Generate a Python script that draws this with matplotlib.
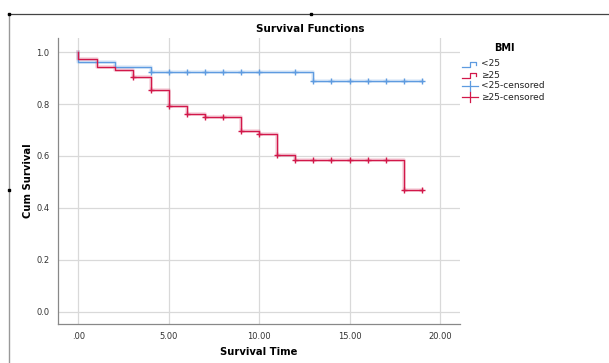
import numpy as np
import matplotlib
matplotlib.use("Agg")
import matplotlib.pyplot as plt
from matplotlib.lines import Line2D

# Kaplan-Meier step data
blue_times = [0, 2, 4, 13, 19]
blue_surv = [0.964, 0.944, 0.925, 0.890, 0.890]
blue_cens = [4, 5, 6, 7, 8, 9, 10, 12, 13, 14, 15, 16, 17, 18, 19]

red_times = [0, 1, 2, 3, 4, 5, 6, 7, 9, 10, 11, 12, 18, 19]
red_surv = [0.974, 0.942, 0.932, 0.903, 0.854, 0.794, 0.763, 0.752,
            0.697, 0.684, 0.603, 0.586, 0.469, 0.469]
red_cens = [3, 4, 5, 6, 7, 8, 9, 10, 11, 12, 13, 14, 15, 16, 17, 18, 19]

x_ticks = [0, 5, 10, 15, 20]
x_labels = [".00", "5.00", "10.00", "15.00", "20.00"]
y_ticks = [0.0, 0.2, 0.4, 0.6, 0.8, 1.0]
legend_labels = ["<25", "\u226525", "<25-censored", "\u226525-censored"]

BLUE = "#5e9be0"
RED = "#d2184a"
W, H = 609, 363


def surv_at(times, surv, t):
    idx = np.searchsorted(times, t, side="right") - 1
    return np.asarray(surv)[idx]


def fx(px):
    return px / W


def fy(py):
    return 1 - py / H


fig = plt.figure(figsize=(6.09, 3.63), dpi=100)
ax = fig.add_axes([fx(58), fy(324), fx(460) - fx(58), fy(38) - fy(324)])

for times, surv, cens, color in [(blue_times, blue_surv, blue_cens, BLUE),
                                 (red_times, red_surv, red_cens, RED)]:
    xs = [0] + times
    ys = [1.0] + surv
    ax.step(xs, ys, where="post", color=color, lw=1.0, zorder=3)
    ax.step(xs, ys, where="post", color=color, lw=2.6, alpha=0.18, zorder=2)
    cy = [surv_at(times, surv, t) for t in cens]
    ax.plot(cens, cy, ls="none", marker="+", ms=5, mew=1.0,
            color=color, zorder=4)

ax.set_xlim(-1.13, 21.11)
ax.set_ylim(-0.048, 1.055)
ax.set_xticks(x_ticks)
ax.set_xticklabels(x_labels)
ax.set_yticks(y_ticks)
ax.set_yticklabels([f"{v:.1f}" for v in y_ticks])
ax.tick_params(length=0, labelsize=6, colors="#333333", pad=6)
ax.grid(True, color="#d9d9d9", lw=0.9)
ax.set_axisbelow(True)
for side in ["top", "right"]:
    ax.spines[side].set_visible(False)
for side in ["left", "bottom"]:
    ax.spines[side].set_color("#888888")
    ax.spines[side].set_linewidth(0.9)

fig.text(fx(310), fy(29), "Survival Functions", ha="center", va="center",
         fontsize=7.5, fontweight="bold")
fig.text(fx(259), fy(352), "Survival Time", ha="center", va="center",
         fontsize=7.2, fontweight="bold")
fig.text(fx(28), fy(181), "Cum Survival", ha="center", va="center",
         fontsize=7.2, fontweight="bold", rotation=90)

# legend drawn by hand to get the step icons
fig.text(fx(504), fy(48), "BMI", ha="center", va="center",
         fontsize=7, fontweight="bold")
rows = [64, 75, 86, 97]
colors = [BLUE, RED, BLUE, RED]
for i, (py, c, lab) in enumerate(zip(rows, colors, legend_labels)):
    if i < 2:
        xs = [462, 470, 470, 476, 476]
        ys = [py + 3, py + 3, py - 2, py - 2, py + 1]
    else:
        xs = [462, 478]
        ys = [py, py]
    fig.add_artist(Line2D([fx(v) for v in xs], [fy(v) for v in ys],
                          color=c, lw=0.9))
    if i >= 2:
        fig.add_artist(Line2D([fx(470), fx(470)], [fy(py - 5), fy(py + 5)],
                              color=c, lw=0.9))
    fig.text(fx(481), fy(py), lab, ha="left", va="center", fontsize=6.5,
             color="#222222")

# page frame lines
fig.add_artist(Line2D([fx(8), fx(608)], [fy(14), fy(14)], color="#444444", lw=0.9))
fig.add_artist(Line2D([fx(9), fx(9)], [fy(14), fy(363)], color="#999999", lw=1.0))
for px, py in [(9, 14), (311, 14), (9, 190)]:
    fig.add_artist(Line2D([fx(px)], [fy(py)], marker="s", ms=2, color="black"))

fig.savefig("out.png", dpi=100)
